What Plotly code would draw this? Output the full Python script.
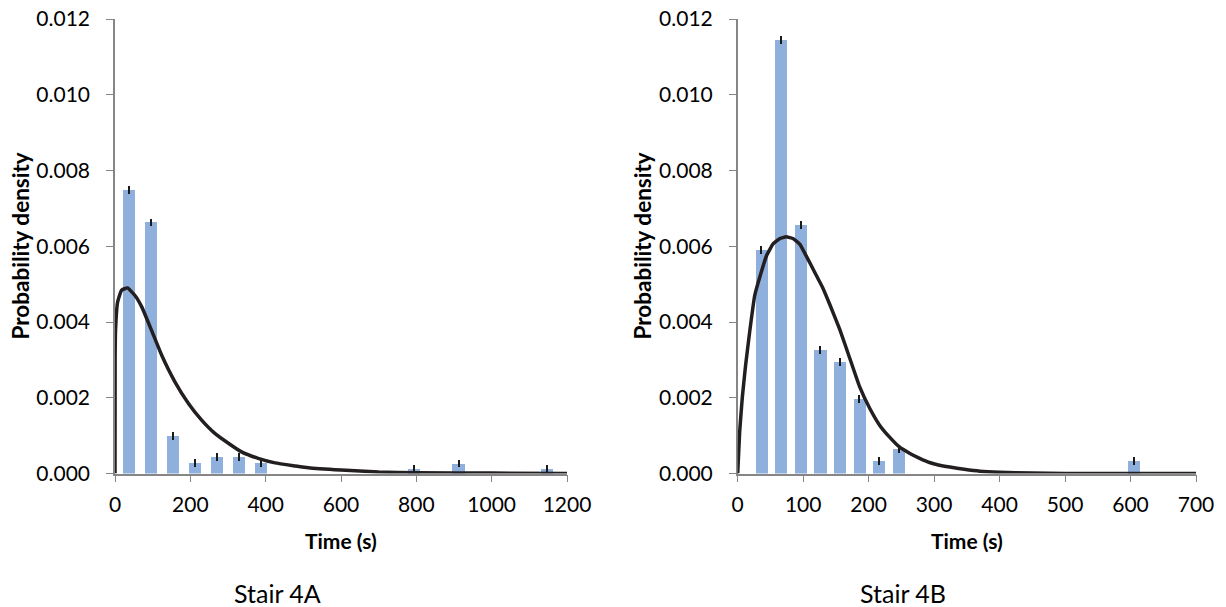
import plotly.graph_objects as go

# ---- data ----
# Stair 4A histogram (bin centres, density) and fitted curve
a_bin_x = [36, 95, 153, 212, 270, 328, 387, 795, 912, 1146]
a_bin_y = [0.00748, 0.00663, 0.00099, 0.00027, 0.00043, 0.00043, 0.00028, 0.00013, 0.00026, 0.00013]
a_err = [0.0001] * len(a_bin_x)
a_fit_x = [0, 0.3, 1.5, 7, 17.5, 33, 53, 71, 97, 124, 159, 195, 230, 265, 301, 336, 380, 425, 478, 513, 600, 700, 800, 1000, 1200]
a_fit_y = [0, 0.0030, 0.0038, 0.00453, 0.00484, 0.0049, 0.0047, 0.0044, 0.00378, 0.00312, 0.00242, 0.00185,
           0.00141, 0.00106, 0.0008, 0.00057, 0.0004, 0.00028, 0.0002, 0.00015, 0.00009, 0.00004, 0.00002, 0.00001, 0]

# Stair 4B histogram and fitted curve
b_bin_x = [36, 66, 96, 126, 156, 186, 216, 246, 605]
b_bin_y = [0.0059, 0.01144, 0.00656, 0.00326, 0.00294, 0.00196, 0.000325, 0.00064, 0.000325]
b_err = [0.0001] * len(b_bin_x)
b_fit_x = [0, 3, 7, 12, 18, 26, 34, 44, 54, 64, 74, 85, 95, 103, 118, 130, 141, 156, 171, 186, 202, 217, 232, 247,
           263, 278, 293, 308, 324, 346, 370, 400, 450, 500, 600, 700]
b_fit_y = [0, 0.0011, 0.0020, 0.00285, 0.0037, 0.0047, 0.0052, 0.00575, 0.00606, 0.0062, 0.00625, 0.0062, 0.00605,
           0.0058, 0.0053, 0.0049, 0.00445, 0.0038, 0.00305, 0.0023, 0.00171, 0.00127, 0.00096, 0.0007, 0.00053,
           0.0004, 0.00029, 0.00022, 0.00017, 0.00011, 0.00006, 0.00003, 0.00001, 0.0, 0, 0]

y_ticks = [0, 0.002, 0.004, 0.006, 0.008, 0.010, 0.012]
a_x_ticks = [0, 200, 400, 600, 800, 1000, 1200]
b_x_ticks = [0, 100, 200, 300, 400, 500, 600, 700]

panel_titles = ["Stair 4A", "Stair 4B"]
x_title = "Time (s)"
y_title = "Probability density"

# ---- styling ----
W, H = 1226, 607
BAR = "#8FB0DC"
LINE = "#231F20"
AXIS = "#868686"
FONT = "Lato"

fig = go.Figure()

fig.add_trace(go.Bar(x=a_bin_x, y=a_bin_y, width=32, marker=dict(color=BAR, line=dict(width=0)),
                     error_y=dict(type="data", array=a_err, visible=True, color="#1a1a1a", thickness=2, width=0),
                     xaxis="x", yaxis="y", showlegend=False))
fig.add_trace(go.Scatter(x=a_fit_x, y=a_fit_y, mode="lines", line=dict(color=LINE, width=3.5, shape="spline", smoothing=0.4),
                         cliponaxis=False, xaxis="x", yaxis="y", showlegend=False))
fig.add_trace(go.Bar(x=b_bin_x, y=b_bin_y, width=18.5, marker=dict(color=BAR, line=dict(width=0)),
                     error_y=dict(type="data", array=b_err, visible=True, color="#1a1a1a", thickness=2, width=0),
                     xaxis="x2", yaxis="y2", showlegend=False))
fig.add_trace(go.Scatter(x=b_fit_x, y=b_fit_y, mode="lines", line=dict(color=LINE, width=3.5, shape="spline", smoothing=0.3),
                         cliponaxis=False, xaxis="x2", yaxis="y2", showlegend=False))

ydom = [1 - 473.5 / H, 1 - 19 / H]
xdom1 = [115 / W, 567 / W]
xdom2 = [737.7 / W, 1196 / W]

common_axis = dict(showline=True, linecolor=AXIS, linewidth=1.5, ticks="outside", tickcolor=AXIS,
                   ticklen=7, tickwidth=1.2, showgrid=False, zeroline=False, layer="below traces",
                   automargin=False, tickfont=dict(family=FONT, size=21, color="#000000"))

fig.update_layout(
    width=W, height=H, margin=dict(l=0, r=0, t=0, b=0, autoexpand=False),
    paper_bgcolor="white", plot_bgcolor="white", bargap=0,
    font=dict(family=FONT, color="#000000"),
    xaxis=dict(domain=xdom1, range=[0, 1200], tickvals=a_x_ticks, ticklabelstandoff=5, anchor="y", **common_axis),
    yaxis=dict(domain=ydom, range=[0, 0.012], tickvals=y_ticks, tickformat=".3f", ticklabelstandoff=12, anchor="x", **common_axis),
    xaxis2=dict(domain=xdom2, range=[0, 700], tickvals=b_x_ticks, ticklabelstandoff=5, anchor="y2", **common_axis),
    yaxis2=dict(domain=ydom, range=[0, 0.012], tickvals=y_ticks, tickformat=".3f", ticklabelstandoff=12, anchor="x2", **common_axis),
)

ann = []
for cx, ylabx, title in [((115 + 567) / 2, 20, panel_titles[0]), ((737.7 + 1196) / 2, 642, panel_titles[1])]:
    ann.append(dict(text="<b>%s</b>" % x_title, x=cx / W, y=1 - 540 / H, xref="paper", yref="paper",
                    showarrow=False, font=dict(family=FONT, size=21), xanchor="center", yanchor="middle"))
    ann.append(dict(text="<b>%s</b>" % y_title, x=ylabx / W, y=1 - 246.5 / H, xref="paper", yref="paper",
                    showarrow=False, font=dict(family=FONT, size=22.5), textangle=-90, xanchor="center", yanchor="middle"))
    ann.append(dict(text=title, x=(cx - 64) / W, y=1 - 593 / H, xref="paper", yref="paper",
                    showarrow=False, font=dict(family=FONT, size=25), xanchor="center", yanchor="middle"))
fig.update_layout(annotations=ann)

fig.write_html("out.html", config={"displayModeBar": False},
               post_script="document.body.style.margin='0';document.body.style.padding='0';"
                           "document.body.style.overflow='hidden';")
